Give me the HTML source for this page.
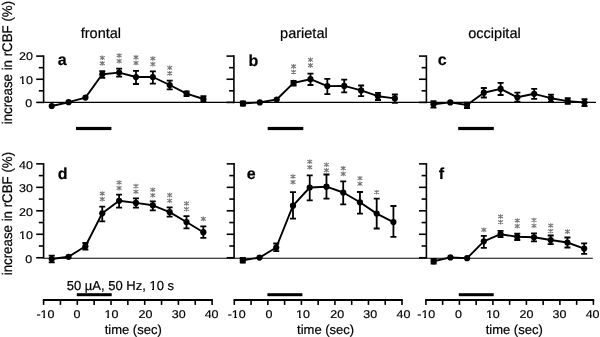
<!DOCTYPE html>
<html><head><meta charset="utf-8"><style>
html,body{margin:0;padding:0;background:#fff;}
body{width:600px;height:337px;overflow:hidden;font-family:"Liberation Sans",sans-serif;}
svg{display:block;filter:grayscale(1);}
text{stroke:#000;stroke-width:0.2px;}
</style></head><body>
<svg width="600" height="337" viewBox="0 0 600 337">
<rect width="600" height="337" fill="#fff"/>
<g font-family="'Liberation Sans', sans-serif" fill="#000" text-rendering="geometricPrecision" style="font-kerning:none">
<line x1="43.6" y1="102.40" x2="233.9" y2="102.40" stroke="#000" stroke-width="1.1"/>
<line x1="43.6" y1="55.35" x2="43.6" y2="103.15" stroke="#000" stroke-width="1.6"/>
<line x1="36.20" y1="102.40" x2="43.6" y2="102.40" stroke="#000" stroke-width="1.6"/>
<text transform="translate(32.10,106.70) scale(1,0.9)" font-size="12.5" text-anchor="end">0</text>
<line x1="38.80" y1="90.83" x2="43.6" y2="90.83" stroke="#000" stroke-width="1.6"/>
<line x1="36.20" y1="79.25" x2="43.6" y2="79.25" stroke="#000" stroke-width="1.6"/>
<text transform="translate(33.00,83.55) scale(1,0.9)" font-size="12.5" text-anchor="end">10</text>
<line x1="38.80" y1="67.68" x2="43.6" y2="67.68" stroke="#000" stroke-width="1.6"/>
<line x1="36.20" y1="56.10" x2="43.6" y2="56.10" stroke="#000" stroke-width="1.6"/>
<text transform="translate(33.00,60.40) scale(1,0.9)" font-size="12.5" text-anchor="end">20</text>
<text x="57.80" y="65.20" font-size="16" font-weight="bold">a</text>
<polyline points="51.73,106.00 68.58,102.20 85.44,97.60 102.29,74.30 119.15,72.60 136.00,77.00 152.86,77.00 169.71,85.00 186.57,93.60 203.42,99.00" fill="none" stroke="#000" stroke-width="1.9" stroke-linejoin="round"/>
<circle cx="51.73" cy="106.00" r="3.1" fill="#000"/>
<circle cx="68.58" cy="102.20" r="3.1" fill="#000"/>
<circle cx="85.44" cy="97.60" r="3.1" fill="#000"/>
<path d="M102.29 71.20V77.80M99.29 71.20H105.29M99.29 77.80H105.29" stroke="#000" stroke-width="1.8" fill="none"/>
<circle cx="102.29" cy="74.30" r="3.1" fill="#000"/>
<path d="M119.15 68.70V76.60M116.15 68.70H122.15M116.15 76.60H122.15" stroke="#000" stroke-width="1.8" fill="none"/>
<circle cx="119.15" cy="72.60" r="3.1" fill="#000"/>
<path d="M136.00 70.90V84.00M133.00 70.90H139.00M133.00 84.00H139.00" stroke="#000" stroke-width="1.8" fill="none"/>
<circle cx="136.00" cy="77.00" r="3.1" fill="#000"/>
<path d="M152.86 71.30V83.60M149.86 71.30H155.86M149.86 83.60H155.86" stroke="#000" stroke-width="1.8" fill="none"/>
<circle cx="152.86" cy="77.00" r="3.1" fill="#000"/>
<path d="M169.71 80.60V89.40M166.71 80.60H172.71M166.71 89.40H172.71" stroke="#000" stroke-width="1.8" fill="none"/>
<circle cx="169.71" cy="85.00" r="3.1" fill="#000"/>
<path d="M186.57 91.40V96.00M183.57 91.40H189.57M183.57 96.00H189.57" stroke="#000" stroke-width="1.8" fill="none"/>
<circle cx="186.57" cy="93.60" r="3.1" fill="#000"/>
<path d="M203.42 96.20V101.70M200.42 96.20H206.42M200.42 101.70H206.42" stroke="#000" stroke-width="1.8" fill="none"/>
<circle cx="203.42" cy="99.00" r="3.1" fill="#000"/>
<rect x="76.00" y="126.9" width="35.40" height="3.2" fill="#000"/>
<line x1="233.9" y1="102.40" x2="426.4" y2="102.40" stroke="#000" stroke-width="1.1"/>
<line x1="233.9" y1="55.35" x2="233.9" y2="103.15" stroke="#000" stroke-width="1.6"/>
<line x1="226.50" y1="102.40" x2="233.9" y2="102.40" stroke="#000" stroke-width="1.6"/>
<line x1="229.10" y1="90.83" x2="233.9" y2="90.83" stroke="#000" stroke-width="1.6"/>
<line x1="226.50" y1="79.25" x2="233.9" y2="79.25" stroke="#000" stroke-width="1.6"/>
<line x1="229.10" y1="67.68" x2="233.9" y2="67.68" stroke="#000" stroke-width="1.6"/>
<line x1="226.50" y1="56.10" x2="233.9" y2="56.10" stroke="#000" stroke-width="1.6"/>
<text x="248.40" y="65.80" font-size="16" font-weight="bold">b</text>
<polyline points="242.94,103.50 259.82,102.40 276.70,99.50 293.58,82.90 310.46,79.20 327.34,86.10 344.22,85.90 361.10,90.40 377.98,96.20 394.86,98.40" fill="none" stroke="#000" stroke-width="1.9" stroke-linejoin="round"/>
<path d="M242.94 101.50V105.50M239.94 101.50H245.94M239.94 105.50H245.94" stroke="#000" stroke-width="1.8" fill="none"/>
<circle cx="242.94" cy="103.50" r="3.1" fill="#000"/>
<circle cx="259.82" cy="102.40" r="3.1" fill="#000"/>
<circle cx="276.70" cy="99.50" r="3.1" fill="#000"/>
<path d="M293.58 80.80V85.50M290.58 80.80H296.58M290.58 85.50H296.58" stroke="#000" stroke-width="1.8" fill="none"/>
<circle cx="293.58" cy="82.90" r="3.1" fill="#000"/>
<path d="M310.46 73.70V85.00M307.46 73.70H313.46M307.46 85.00H313.46" stroke="#000" stroke-width="1.8" fill="none"/>
<circle cx="310.46" cy="79.20" r="3.1" fill="#000"/>
<path d="M327.34 78.80V94.20M324.34 78.80H330.34M324.34 94.20H330.34" stroke="#000" stroke-width="1.8" fill="none"/>
<circle cx="327.34" cy="86.10" r="3.1" fill="#000"/>
<path d="M344.22 79.70V92.30M341.22 79.70H347.22M341.22 92.30H347.22" stroke="#000" stroke-width="1.8" fill="none"/>
<circle cx="344.22" cy="85.90" r="3.1" fill="#000"/>
<path d="M361.10 85.50V96.20M358.10 85.50H364.10M358.10 96.20H364.10" stroke="#000" stroke-width="1.8" fill="none"/>
<circle cx="361.10" cy="90.40" r="3.1" fill="#000"/>
<path d="M377.98 92.90V100.00M374.98 92.90H380.98M374.98 100.00H380.98" stroke="#000" stroke-width="1.8" fill="none"/>
<circle cx="377.98" cy="96.20" r="3.1" fill="#000"/>
<path d="M394.86 94.50V102.80M391.86 94.50H397.86M391.86 102.80H397.86" stroke="#000" stroke-width="1.8" fill="none"/>
<circle cx="394.86" cy="98.40" r="3.1" fill="#000"/>
<rect x="267.70" y="126.9" width="35.60" height="3.2" fill="#000"/>
<line x1="426.4" y1="102.40" x2="596" y2="102.40" stroke="#000" stroke-width="1.1"/>
<line x1="426.4" y1="55.35" x2="426.4" y2="103.15" stroke="#000" stroke-width="1.6"/>
<line x1="419.00" y1="102.40" x2="426.4" y2="102.40" stroke="#000" stroke-width="1.6"/>
<line x1="421.60" y1="90.83" x2="426.4" y2="90.83" stroke="#000" stroke-width="1.6"/>
<line x1="419.00" y1="79.25" x2="426.4" y2="79.25" stroke="#000" stroke-width="1.6"/>
<line x1="421.60" y1="67.68" x2="426.4" y2="67.68" stroke="#000" stroke-width="1.6"/>
<line x1="419.00" y1="56.10" x2="426.4" y2="56.10" stroke="#000" stroke-width="1.6"/>
<text x="437.80" y="65.30" font-size="16" font-weight="bold">c</text>
<polyline points="433.49,104.20 450.27,102.40 467.05,105.00 483.83,92.70 500.61,88.90 517.39,97.30 534.17,93.80 550.95,98.20 567.73,101.10 584.51,102.50" fill="none" stroke="#000" stroke-width="1.9" stroke-linejoin="round"/>
<path d="M433.49 101.20V107.70M430.49 101.20H436.49M430.49 107.70H436.49" stroke="#000" stroke-width="1.8" fill="none"/>
<circle cx="433.49" cy="104.20" r="3.1" fill="#000"/>
<circle cx="450.27" cy="102.40" r="3.1" fill="#000"/>
<path d="M467.05 102.70V108.00M464.05 102.70H470.05M464.05 108.00H470.05" stroke="#000" stroke-width="1.8" fill="none"/>
<circle cx="467.05" cy="105.00" r="3.1" fill="#000"/>
<path d="M483.83 88.00V97.50M480.83 88.00H486.83M480.83 97.50H486.83" stroke="#000" stroke-width="1.8" fill="none"/>
<circle cx="483.83" cy="92.70" r="3.1" fill="#000"/>
<path d="M500.61 82.90V95.00M497.61 82.90H503.61M497.61 95.00H503.61" stroke="#000" stroke-width="1.8" fill="none"/>
<circle cx="500.61" cy="88.90" r="3.1" fill="#000"/>
<path d="M517.39 92.70V101.70M514.39 92.70H520.39M514.39 101.70H520.39" stroke="#000" stroke-width="1.8" fill="none"/>
<circle cx="517.39" cy="97.30" r="3.1" fill="#000"/>
<path d="M534.17 88.90V98.90M531.17 88.90H537.17M531.17 98.90H537.17" stroke="#000" stroke-width="1.8" fill="none"/>
<circle cx="534.17" cy="93.80" r="3.1" fill="#000"/>
<path d="M550.95 94.70V102.00M547.95 94.70H553.95M547.95 102.00H553.95" stroke="#000" stroke-width="1.8" fill="none"/>
<circle cx="550.95" cy="98.20" r="3.1" fill="#000"/>
<path d="M567.73 98.20V103.80M564.73 98.20H570.73M564.73 103.80H570.73" stroke="#000" stroke-width="1.8" fill="none"/>
<circle cx="567.73" cy="101.10" r="3.1" fill="#000"/>
<path d="M584.51 99.20V106.00M581.51 99.20H587.51M581.51 106.00H587.51" stroke="#000" stroke-width="1.8" fill="none"/>
<circle cx="584.51" cy="102.50" r="3.1" fill="#000"/>
<rect x="458.20" y="126.9" width="35.60" height="3.2" fill="#000"/>
<line x1="43.6" y1="258.20" x2="234.1" y2="258.20" stroke="#000" stroke-width="1.1"/>
<line x1="43.6" y1="163.12" x2="43.6" y2="258.50" stroke="#000" stroke-width="1.6"/>
<line x1="36.20" y1="257.75" x2="43.6" y2="257.75" stroke="#000" stroke-width="1.6"/>
<text transform="translate(32.10,262.65) scale(1,0.9)" font-size="12.5" text-anchor="end">0</text>
<line x1="38.80" y1="246.01" x2="43.6" y2="246.01" stroke="#000" stroke-width="1.6"/>
<line x1="36.20" y1="234.28" x2="43.6" y2="234.28" stroke="#000" stroke-width="1.6"/>
<text transform="translate(33.00,239.18) scale(1,0.9)" font-size="12.5" text-anchor="end">10</text>
<line x1="38.80" y1="222.55" x2="43.6" y2="222.55" stroke="#000" stroke-width="1.6"/>
<line x1="36.20" y1="210.81" x2="43.6" y2="210.81" stroke="#000" stroke-width="1.6"/>
<text transform="translate(33.00,215.71) scale(1,0.9)" font-size="12.5" text-anchor="end">20</text>
<line x1="38.80" y1="199.07" x2="43.6" y2="199.07" stroke="#000" stroke-width="1.6"/>
<line x1="36.20" y1="187.34" x2="43.6" y2="187.34" stroke="#000" stroke-width="1.6"/>
<text transform="translate(33.00,192.24) scale(1,0.9)" font-size="12.5" text-anchor="end">30</text>
<line x1="38.80" y1="175.61" x2="43.6" y2="175.61" stroke="#000" stroke-width="1.6"/>
<line x1="36.20" y1="163.87" x2="43.6" y2="163.87" stroke="#000" stroke-width="1.6"/>
<text transform="translate(33.00,168.77) scale(1,0.9)" font-size="12.5" text-anchor="end">40</text>
<text x="57.80" y="179.00" font-size="16" font-weight="bold">d</text>
<polyline points="51.72,259.00 68.57,256.80 85.41,246.30 102.26,213.30 119.10,200.80 135.95,202.90 152.79,205.30 169.64,212.10 186.48,222.00 203.33,232.20" fill="none" stroke="#000" stroke-width="1.9" stroke-linejoin="round"/>
<path d="M51.72 255.70V262.40M48.72 255.70H54.72M48.72 262.40H54.72" stroke="#000" stroke-width="1.8" fill="none"/>
<circle cx="51.72" cy="259.00" r="3.1" fill="#000"/>
<circle cx="68.57" cy="256.80" r="3.1" fill="#000"/>
<path d="M85.41 243.00V249.70M82.41 243.00H88.41M82.41 249.70H88.41" stroke="#000" stroke-width="1.8" fill="none"/>
<circle cx="85.41" cy="246.30" r="3.1" fill="#000"/>
<path d="M102.26 206.60V221.30M99.26 206.60H105.26M99.26 221.30H105.26" stroke="#000" stroke-width="1.8" fill="none"/>
<circle cx="102.26" cy="213.30" r="3.1" fill="#000"/>
<path d="M119.10 194.70V207.70M116.10 194.70H122.10M116.10 207.70H122.10" stroke="#000" stroke-width="1.8" fill="none"/>
<circle cx="119.10" cy="200.80" r="3.1" fill="#000"/>
<path d="M135.95 198.30V207.70M132.95 198.30H138.95M132.95 207.70H138.95" stroke="#000" stroke-width="1.8" fill="none"/>
<circle cx="135.95" cy="202.90" r="3.1" fill="#000"/>
<path d="M152.79 201.30V210.30M149.79 201.30H155.79M149.79 210.30H155.79" stroke="#000" stroke-width="1.8" fill="none"/>
<circle cx="152.79" cy="205.30" r="3.1" fill="#000"/>
<path d="M169.64 207.40V216.70M166.64 207.40H172.64M166.64 216.70H172.64" stroke="#000" stroke-width="1.8" fill="none"/>
<circle cx="169.64" cy="212.10" r="3.1" fill="#000"/>
<path d="M186.48 216.10V228.30M183.48 216.10H189.48M183.48 228.30H189.48" stroke="#000" stroke-width="1.8" fill="none"/>
<circle cx="186.48" cy="222.00" r="3.1" fill="#000"/>
<path d="M203.33 226.30V237.90M200.33 226.30H206.33M200.33 237.90H206.33" stroke="#000" stroke-width="1.8" fill="none"/>
<circle cx="203.33" cy="232.20" r="3.1" fill="#000"/>
<rect x="76.80" y="293.2" width="34.90" height="3.0" fill="#000"/>
<line x1="42.85" y1="300.0" x2="212.85" y2="300.0" stroke="#000" stroke-width="1.8"/>
<line x1="43.60" y1="300.0" x2="43.60" y2="304.90" stroke="#000" stroke-width="1.6"/>
<text transform="translate(45.47,318.30) scale(1,0.9)" font-size="12.5" text-anchor="middle">-10</text>
<line x1="60.45" y1="300.0" x2="60.45" y2="304.90" stroke="#000" stroke-width="1.6"/>
<line x1="77.30" y1="300.0" x2="77.30" y2="304.90" stroke="#000" stroke-width="1.6"/>
<text transform="translate(76.90,318.30) scale(1,0.9)" font-size="12.5" text-anchor="middle">0</text>
<line x1="94.15" y1="300.0" x2="94.15" y2="304.90" stroke="#000" stroke-width="1.6"/>
<line x1="111.00" y1="300.0" x2="111.00" y2="304.90" stroke="#000" stroke-width="1.6"/>
<text transform="translate(111.44,318.30) scale(1,0.9)" font-size="12.5" text-anchor="middle">10</text>
<line x1="127.85" y1="300.0" x2="127.85" y2="304.90" stroke="#000" stroke-width="1.6"/>
<line x1="144.70" y1="300.0" x2="144.70" y2="304.90" stroke="#000" stroke-width="1.6"/>
<text transform="translate(145.43,318.30) scale(1,0.9)" font-size="12.5" text-anchor="middle">20</text>
<line x1="161.55" y1="300.0" x2="161.55" y2="304.90" stroke="#000" stroke-width="1.6"/>
<line x1="178.40" y1="300.0" x2="178.40" y2="304.90" stroke="#000" stroke-width="1.6"/>
<text transform="translate(178.71,318.30) scale(1,0.9)" font-size="12.5" text-anchor="middle">30</text>
<line x1="195.25" y1="300.0" x2="195.25" y2="304.90" stroke="#000" stroke-width="1.6"/>
<line x1="212.10" y1="300.0" x2="212.10" y2="304.90" stroke="#000" stroke-width="1.6"/>
<text transform="translate(211.60,318.30) scale(1,0.9)" font-size="12.5" text-anchor="middle">40</text>
<text x="133.20" y="333.80" font-size="13" text-anchor="middle">time (sec)</text>
<line x1="234.1" y1="258.20" x2="426.4" y2="258.20" stroke="#000" stroke-width="1.1"/>
<line x1="234.1" y1="163.12" x2="234.1" y2="258.50" stroke="#000" stroke-width="1.6"/>
<line x1="226.70" y1="257.75" x2="234.1" y2="257.75" stroke="#000" stroke-width="1.6"/>
<line x1="229.30" y1="246.01" x2="234.1" y2="246.01" stroke="#000" stroke-width="1.6"/>
<line x1="226.70" y1="234.28" x2="234.1" y2="234.28" stroke="#000" stroke-width="1.6"/>
<line x1="229.30" y1="222.55" x2="234.1" y2="222.55" stroke="#000" stroke-width="1.6"/>
<line x1="226.70" y1="210.81" x2="234.1" y2="210.81" stroke="#000" stroke-width="1.6"/>
<line x1="229.30" y1="199.07" x2="234.1" y2="199.07" stroke="#000" stroke-width="1.6"/>
<line x1="226.70" y1="187.34" x2="234.1" y2="187.34" stroke="#000" stroke-width="1.6"/>
<line x1="229.30" y1="175.61" x2="234.1" y2="175.61" stroke="#000" stroke-width="1.6"/>
<line x1="226.70" y1="163.87" x2="234.1" y2="163.87" stroke="#000" stroke-width="1.6"/>
<text x="246.80" y="179.10" font-size="16" font-weight="bold">e</text>
<polyline points="242.77,260.20 259.51,257.60 276.25,247.50 292.99,205.70 309.73,187.50 326.47,186.70 343.21,192.50 359.95,202.30 376.69,213.60 393.43,222.10" fill="none" stroke="#000" stroke-width="1.9" stroke-linejoin="round"/>
<path d="M242.77 258.00V262.50M239.77 258.00H245.77M239.77 262.50H245.77" stroke="#000" stroke-width="1.8" fill="none"/>
<circle cx="242.77" cy="260.20" r="3.1" fill="#000"/>
<circle cx="259.51" cy="257.60" r="3.1" fill="#000"/>
<path d="M276.25 243.50V251.20M273.25 243.50H279.25M273.25 251.20H279.25" stroke="#000" stroke-width="1.8" fill="none"/>
<circle cx="276.25" cy="247.50" r="3.1" fill="#000"/>
<path d="M292.99 192.10V218.70M289.99 192.10H295.99M289.99 218.70H295.99" stroke="#000" stroke-width="1.8" fill="none"/>
<circle cx="292.99" cy="205.70" r="3.1" fill="#000"/>
<path d="M309.73 175.30V200.30M306.73 175.30H312.73M306.73 200.30H312.73" stroke="#000" stroke-width="1.8" fill="none"/>
<circle cx="309.73" cy="187.50" r="3.1" fill="#000"/>
<path d="M326.47 174.50V198.60M323.47 174.50H329.47M323.47 198.60H329.47" stroke="#000" stroke-width="1.8" fill="none"/>
<circle cx="326.47" cy="186.70" r="3.1" fill="#000"/>
<path d="M343.21 181.30V204.30M340.21 181.30H346.21M340.21 204.30H346.21" stroke="#000" stroke-width="1.8" fill="none"/>
<circle cx="343.21" cy="192.50" r="3.1" fill="#000"/>
<path d="M359.95 192.00V213.70M356.95 192.00H362.95M356.95 213.70H362.95" stroke="#000" stroke-width="1.8" fill="none"/>
<circle cx="359.95" cy="202.30" r="3.1" fill="#000"/>
<path d="M376.69 198.60V228.50M373.69 198.60H379.69M373.69 228.50H379.69" stroke="#000" stroke-width="1.8" fill="none"/>
<circle cx="376.69" cy="213.60" r="3.1" fill="#000"/>
<path d="M393.43 206.00V236.80M390.43 206.00H396.43M390.43 236.80H396.43" stroke="#000" stroke-width="1.8" fill="none"/>
<circle cx="393.43" cy="222.10" r="3.1" fill="#000"/>
<rect x="267.40" y="293.2" width="35.00" height="3.0" fill="#000"/>
<line x1="233.55" y1="300.0" x2="402.75" y2="300.0" stroke="#000" stroke-width="1.8"/>
<line x1="234.30" y1="300.0" x2="234.30" y2="304.90" stroke="#000" stroke-width="1.6"/>
<text transform="translate(236.67,318.30) scale(1,0.9)" font-size="12.5" text-anchor="middle">-10</text>
<line x1="251.07" y1="300.0" x2="251.07" y2="304.90" stroke="#000" stroke-width="1.6"/>
<line x1="267.84" y1="300.0" x2="267.84" y2="304.90" stroke="#000" stroke-width="1.6"/>
<text transform="translate(269.00,318.30) scale(1,0.9)" font-size="12.5" text-anchor="middle">0</text>
<line x1="284.61" y1="300.0" x2="284.61" y2="304.90" stroke="#000" stroke-width="1.6"/>
<line x1="301.38" y1="300.0" x2="301.38" y2="304.90" stroke="#000" stroke-width="1.6"/>
<text transform="translate(302.94,318.30) scale(1,0.9)" font-size="12.5" text-anchor="middle">10</text>
<line x1="318.15" y1="300.0" x2="318.15" y2="304.90" stroke="#000" stroke-width="1.6"/>
<line x1="334.92" y1="300.0" x2="334.92" y2="304.90" stroke="#000" stroke-width="1.6"/>
<text transform="translate(337.23,318.30) scale(1,0.9)" font-size="12.5" text-anchor="middle">20</text>
<line x1="351.69" y1="300.0" x2="351.69" y2="304.90" stroke="#000" stroke-width="1.6"/>
<line x1="368.46" y1="300.0" x2="368.46" y2="304.90" stroke="#000" stroke-width="1.6"/>
<text transform="translate(370.21,318.30) scale(1,0.9)" font-size="12.5" text-anchor="middle">30</text>
<line x1="385.23" y1="300.0" x2="385.23" y2="304.90" stroke="#000" stroke-width="1.6"/>
<line x1="402.00" y1="300.0" x2="402.00" y2="304.90" stroke="#000" stroke-width="1.6"/>
<text transform="translate(403.40,318.30) scale(1,0.9)" font-size="12.5" text-anchor="middle">40</text>
<text x="325.60" y="333.80" font-size="13" text-anchor="middle">time (sec)</text>
<line x1="426.4" y1="258.20" x2="592.8" y2="258.20" stroke="#000" stroke-width="1.1"/>
<line x1="426.4" y1="163.12" x2="426.4" y2="258.50" stroke="#000" stroke-width="1.6"/>
<line x1="419.00" y1="257.75" x2="426.4" y2="257.75" stroke="#000" stroke-width="1.6"/>
<line x1="421.60" y1="246.01" x2="426.4" y2="246.01" stroke="#000" stroke-width="1.6"/>
<line x1="419.00" y1="234.28" x2="426.4" y2="234.28" stroke="#000" stroke-width="1.6"/>
<line x1="421.60" y1="222.55" x2="426.4" y2="222.55" stroke="#000" stroke-width="1.6"/>
<line x1="419.00" y1="210.81" x2="426.4" y2="210.81" stroke="#000" stroke-width="1.6"/>
<line x1="421.60" y1="199.07" x2="426.4" y2="199.07" stroke="#000" stroke-width="1.6"/>
<line x1="419.00" y1="187.34" x2="426.4" y2="187.34" stroke="#000" stroke-width="1.6"/>
<line x1="421.60" y1="175.61" x2="426.4" y2="175.61" stroke="#000" stroke-width="1.6"/>
<line x1="419.00" y1="163.87" x2="426.4" y2="163.87" stroke="#000" stroke-width="1.6"/>
<text x="438.80" y="179.00" font-size="16" font-weight="bold">f</text>
<polyline points="433.66,261.30 450.38,257.40 467.10,258.20 483.82,241.30 500.54,234.20 517.26,236.80 533.98,237.30 550.70,240.00 567.42,242.50 584.14,248.60" fill="none" stroke="#000" stroke-width="1.9" stroke-linejoin="round"/>
<path d="M433.66 259.00V263.50M430.66 259.00H436.66M430.66 263.50H436.66" stroke="#000" stroke-width="1.8" fill="none"/>
<circle cx="433.66" cy="261.30" r="3.1" fill="#000"/>
<circle cx="450.38" cy="257.40" r="3.1" fill="#000"/>
<circle cx="467.10" cy="258.20" r="3.1" fill="#000"/>
<path d="M483.82 235.80V247.80M480.82 235.80H486.82M480.82 247.80H486.82" stroke="#000" stroke-width="1.8" fill="none"/>
<circle cx="483.82" cy="241.30" r="3.1" fill="#000"/>
<path d="M500.54 230.80V237.20M497.54 230.80H503.54M497.54 237.20H503.54" stroke="#000" stroke-width="1.8" fill="none"/>
<circle cx="500.54" cy="234.20" r="3.1" fill="#000"/>
<path d="M517.26 233.70V240.00M514.26 233.70H520.26M514.26 240.00H520.26" stroke="#000" stroke-width="1.8" fill="none"/>
<circle cx="517.26" cy="236.80" r="3.1" fill="#000"/>
<path d="M533.98 233.30V241.30M530.98 233.30H536.98M530.98 241.30H536.98" stroke="#000" stroke-width="1.8" fill="none"/>
<circle cx="533.98" cy="237.30" r="3.1" fill="#000"/>
<path d="M550.70 235.50V244.20M547.70 235.50H553.70M547.70 244.20H553.70" stroke="#000" stroke-width="1.8" fill="none"/>
<circle cx="550.70" cy="240.00" r="3.1" fill="#000"/>
<path d="M567.42 237.50V247.50M564.42 237.50H570.42M564.42 247.50H570.42" stroke="#000" stroke-width="1.8" fill="none"/>
<circle cx="567.42" cy="242.50" r="3.1" fill="#000"/>
<path d="M584.14 243.40V253.90M581.14 243.40H587.14M581.14 253.90H587.14" stroke="#000" stroke-width="1.8" fill="none"/>
<circle cx="584.14" cy="248.60" r="3.1" fill="#000"/>
<rect x="458.80" y="293.2" width="34.90" height="3.0" fill="#000"/>
<line x1="425.15" y1="300.0" x2="594.15" y2="300.0" stroke="#000" stroke-width="1.8"/>
<line x1="425.90" y1="300.0" x2="425.90" y2="304.90" stroke="#000" stroke-width="1.6"/>
<text transform="translate(426.27,318.30) scale(1,0.9)" font-size="12.5" text-anchor="middle">-10</text>
<line x1="442.65" y1="300.0" x2="442.65" y2="304.90" stroke="#000" stroke-width="1.6"/>
<line x1="459.40" y1="300.0" x2="459.40" y2="304.90" stroke="#000" stroke-width="1.6"/>
<text transform="translate(458.50,318.30) scale(1,0.9)" font-size="12.5" text-anchor="middle">0</text>
<line x1="476.15" y1="300.0" x2="476.15" y2="304.90" stroke="#000" stroke-width="1.6"/>
<line x1="492.90" y1="300.0" x2="492.90" y2="304.90" stroke="#000" stroke-width="1.6"/>
<text transform="translate(492.84,318.30) scale(1,0.9)" font-size="12.5" text-anchor="middle">10</text>
<line x1="509.65" y1="300.0" x2="509.65" y2="304.90" stroke="#000" stroke-width="1.6"/>
<line x1="526.40" y1="300.0" x2="526.40" y2="304.90" stroke="#000" stroke-width="1.6"/>
<text transform="translate(526.43,318.30) scale(1,0.9)" font-size="12.5" text-anchor="middle">20</text>
<line x1="543.15" y1="300.0" x2="543.15" y2="304.90" stroke="#000" stroke-width="1.6"/>
<line x1="559.90" y1="300.0" x2="559.90" y2="304.90" stroke="#000" stroke-width="1.6"/>
<text transform="translate(559.51,318.30) scale(1,0.9)" font-size="12.5" text-anchor="middle">30</text>
<line x1="576.65" y1="300.0" x2="576.65" y2="304.90" stroke="#000" stroke-width="1.6"/>
<line x1="593.40" y1="300.0" x2="593.40" y2="304.90" stroke="#000" stroke-width="1.6"/>
<text transform="translate(592.60,318.30) scale(1,0.9)" font-size="12.5" text-anchor="middle">40</text>
<text x="514.20" y="333.80" font-size="13" text-anchor="middle">time (sec)</text>
<path d="M102.29 61.10V65.70M99.86 64.98L104.72 61.82M99.86 61.82L104.72 64.98M102.29 55.50V60.10M99.86 59.38L104.72 56.22M99.86 56.22L104.72 59.38M119.15 58.80V63.40M116.72 62.68L121.58 59.52M116.72 59.52L121.58 62.68M119.15 53.20V57.80M116.72 57.08L121.58 53.92M116.72 53.92L121.58 57.08M136.00 60.70V65.30M133.57 64.58L138.43 61.42M133.57 61.42L138.43 64.58M136.00 55.10V59.70M133.57 58.98L138.43 55.82M133.57 55.82L138.43 58.98M152.86 61.80V66.40M150.43 65.68L155.29 62.52M150.43 62.52L155.29 65.68M152.86 56.20V60.80M150.43 60.08L155.29 56.92M150.43 56.92L155.29 60.08M169.71 71.10V75.70M167.28 74.98L172.14 71.82M167.28 71.82L172.14 74.98M169.71 65.50V70.10M167.28 69.38L172.14 66.22M167.28 66.22L172.14 69.38M293.58 69.70V74.30M291.15 73.58L296.01 70.42M291.15 70.42L296.01 73.58M293.58 64.10V68.70M291.15 67.98L296.01 64.82M291.15 64.82L296.01 67.98M310.46 63.10V67.70M308.03 66.98L312.89 63.82M308.03 63.82L312.89 66.98M310.46 57.50V62.10M308.03 61.38L312.89 58.22M308.03 58.22L312.89 61.38M102.26 196.80V201.40M99.83 200.68L104.69 197.52M99.83 197.52L104.69 200.68M102.26 191.20V195.80M99.83 195.08L104.69 191.92M99.83 191.92L104.69 195.08M119.10 185.80V190.40M116.67 189.68L121.53 186.52M116.67 186.52L121.53 189.68M119.10 180.20V184.80M116.67 184.08L121.53 180.92M116.67 180.92L121.53 184.08M135.95 189.40V194.00M133.52 193.28L138.38 190.12M133.52 190.12L138.38 193.28M135.95 183.80V188.40M133.52 187.68L138.38 184.52M133.52 184.52L138.38 187.68M152.79 193.00V197.60M150.36 196.88L155.22 193.72M150.36 193.72L155.22 196.88M152.79 187.40V192.00M150.36 191.28L155.22 188.12M150.36 188.12L155.22 191.28M169.64 198.40V203.00M167.21 202.28L172.07 199.12M167.21 199.12L172.07 202.28M169.64 192.80V197.40M167.21 196.68L172.07 193.52M167.21 193.52L172.07 196.68M186.48 206.80V211.40M184.05 210.68L188.91 207.52M184.05 207.52L188.91 210.68M186.48 201.20V205.80M184.05 205.08L188.91 201.92M184.05 201.92L188.91 205.08M203.33 216.60V221.20M200.90 220.48L205.76 217.32M200.90 217.32L205.76 220.48M292.99 179.80V184.40M290.56 183.68L295.42 180.52M290.56 180.52L295.42 183.68M292.99 174.20V178.80M290.56 178.08L295.42 174.92M290.56 174.92L295.42 178.08M309.73 165.00V169.60M307.30 168.88L312.16 165.72M307.30 165.72L312.16 168.88M309.73 159.40V164.00M307.30 163.28L312.16 160.12M307.30 160.12L312.16 163.28M326.47 168.00V172.60M324.04 171.88L328.90 168.72M324.04 168.72L328.90 171.88M326.47 162.40V167.00M324.04 166.28L328.90 163.12M324.04 163.12L328.90 166.28M343.21 171.60V176.20M340.78 175.48L345.64 172.32M340.78 172.32L345.64 175.48M343.21 166.00V170.60M340.78 169.88L345.64 166.72M340.78 166.72L345.64 169.88M359.95 181.50V186.10M357.52 185.38L362.38 182.22M357.52 182.22L362.38 185.38M359.95 175.90V180.50M357.52 179.78L362.38 176.62M357.52 176.62L362.38 179.78M376.69 189.90V194.50M374.26 193.78L379.12 190.62M374.26 190.62L379.12 193.78M483.82 227.60V232.20M481.39 231.48L486.25 228.32M481.39 228.32L486.25 231.48M500.54 219.80V224.40M498.11 223.68L502.97 220.52M498.11 220.52L502.97 223.68M500.54 214.20V218.80M498.11 218.08L502.97 214.92M498.11 214.92L502.97 218.08M517.26 223.80V228.40M514.83 227.68L519.69 224.52M514.83 224.52L519.69 227.68M517.26 218.20V222.80M514.83 222.08L519.69 218.92M514.83 218.92L519.69 222.08M533.98 223.40V228.00M531.55 227.28L536.41 224.12M531.55 224.12L536.41 227.28M533.98 217.80V222.40M531.55 221.68L536.41 218.52M531.55 218.52L536.41 221.68M550.70 228.80V233.40M548.27 232.68L553.13 229.52M548.27 229.52L553.13 232.68M550.70 223.20V227.80M548.27 227.08L553.13 223.92M548.27 223.92L553.13 227.08M567.42 229.30V233.90M564.99 233.18L569.85 230.02M564.99 230.02L569.85 233.18" stroke="#7a7a7a" stroke-width="1.15" fill="none"/>
<text x="100.90" y="37.60" font-size="14.5" text-anchor="middle">frontal</text>
<text x="303.90" y="37.50" font-size="14.5" text-anchor="middle">parietal</text>
<text x="494.50" y="37.50" font-size="14.5" text-anchor="middle">occipital</text>
<text transform="translate(11.5,62.6) rotate(-90) scale(1,1.05)" font-size="13.3" text-anchor="middle">increase in rCBF (%)</text>
<text transform="translate(11.5,213.6) rotate(-90) scale(1,1.05)" font-size="13.3" text-anchor="middle">increase in rCBF (%)</text>
<text x="66.80" y="289.80" font-size="13">50 µA, 50 Hz, 10 s</text>
<rect x="19.71" y="82" width="2.29" height="2" fill="#fff"/>
<rect x="24.00" y="82" width="1.87" height="2" fill="#fff"/>
<rect x="19.71" y="238" width="2.29" height="2" fill="#fff"/>
<rect x="24.00" y="238" width="1.87" height="2" fill="#fff"/>
<rect x="41.21" y="317" width="1.79" height="2" fill="#fff"/>
<rect x="45.00" y="317" width="2.37" height="2" fill="#fff"/>
<rect x="105.10" y="317" width="1.90" height="2" fill="#fff"/>
<rect x="109.00" y="317" width="2.27" height="2" fill="#fff"/>
<rect x="232.41" y="317" width="1.59" height="2" fill="#fff"/>
<rect x="237.00" y="317" width="1.57" height="2" fill="#fff"/>
<rect x="296.60" y="317" width="2.40" height="2" fill="#fff"/>
<rect x="301.00" y="317" width="1.77" height="2" fill="#fff"/>
<rect x="422.01" y="317" width="1.99" height="2" fill="#fff"/>
<rect x="426.00" y="317" width="2.17" height="2" fill="#fff"/>
<rect x="486.50" y="317" width="2.50" height="2" fill="#fff"/>
<rect x="491.00" y="317" width="1.67" height="2" fill="#fff"/>
<rect x="150.07" y="288" width="1.93" height="2" fill="#fff"/>
<rect x="154.00" y="288" width="2.49" height="2" fill="#fff"/>
</g>
</svg>
</body></html>
